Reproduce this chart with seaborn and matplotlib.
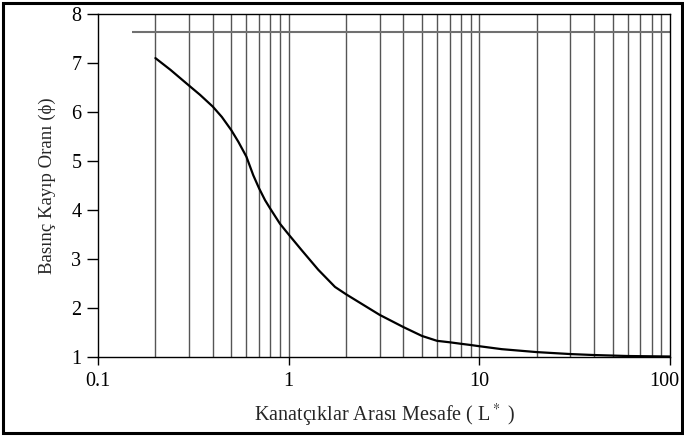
import numpy as np
import pandas as pd
import matplotlib
matplotlib.use("Agg")
import matplotlib.pyplot as plt
import matplotlib.transforms as mtransforms
import seaborn as sns
from matplotlib.patches import Rectangle

# Data
spacing = [0.2, 0.24, 0.3, 0.343, 0.4, 0.446, 0.5, 0.545, 0.6, 0.652, 0.7, 0.752, 0.8, 0.9,
           1.0, 1.17, 1.43, 1.75, 2.0, 3.0, 4.0, 5.0, 6.0, 7.0, 8.0, 9.0, 10.0, 13.1,
           20.0, 30.0, 40.0, 60.0, 100.0]
loss_ratio = [7.10, 6.86, 6.54, 6.35, 6.11, 5.90, 5.63, 5.39, 5.09, 4.71, 4.44, 4.20, 4.03, 3.72,
              3.50, 3.18, 2.78, 2.43, 2.28, 1.86, 1.61, 1.43, 1.33, 1.30, 1.27, 1.245, 1.22, 1.16,
              1.10, 1.06, 1.04, 1.02, 1.01]
grid_x = [0.2, 0.3, 0.4, 0.5, 0.6, 0.7, 0.8, 0.9,
          1, 2, 3, 4, 5, 6, 7, 8, 9,
          10, 20, 30, 40, 50, 60, 70, 80, 90]
ref_level = 7.63
ref_start = 0.15
xticks = [0.1, 1, 10, 100]
xtick_labels = ["0.1", "1", "10", "100"]
yticks = [1, 2, 3, 4, 5, 6, 7, 8]

sns.set_style("ticks")
plt.rcParams['font.family'] = ['Liberation Serif', 'DejaVu Serif']
plt.rcParams['mathtext.fontset'] = 'stix'

fig = plt.figure(figsize=(6.84, 4.36), dpi=100)
ax = fig.add_axes([98/684, 1-357/436, (670-98)/684, (357-14)/436])

for gx in grid_x:
    ax.axvline(gx, color='#555555', lw=1.0, zorder=1)
ax.hlines(ref_level, ref_start, 100, color='#707070', lw=1.5, zorder=1)

df = pd.DataFrame({"x": spacing, "y": loss_ratio})
sns.lineplot(data=df, x="x", y="y", ax=ax, color='black', lw=1.6, zorder=3)

ax.set_xscale('log')
ax.set_xlim(0.1, 100)
ax.set_ylim(1, 8)
ax.set_xticks(xticks)
ax.set_xticklabels(xtick_labels)
ax.minorticks_off()
ax.set_yticks(yticks)
ax.tick_params(axis='y', length=8, width=1, pad=4, labelsize=14.5, colors='black')
ax.tick_params(axis='x', length=6, width=1, pad=5, labelsize=14.5, colors='black')
for s in ax.spines.values():
    s.set_visible(True)
    s.set_color('black')
    s.set_linewidth(1.0)

# keep the last x tick label inside the figure
last = ax.get_xticklabels()[-1]
last.set_transform(last.get_transform() + mtransforms.ScaledTranslation(-6/100, 0, fig.dpi_scale_trans))

ax.set_xlabel("Kanatçıklar Arası Mesafe ( L$^*$ )", fontsize=14.5, labelpad=8)
ax.set_ylabel("Basınç Kayıp Oranı (ϕ)", fontsize=13.5, labelpad=11)

fig.patches.append(Rectangle((3/684, 3/436), 679/684, 430/436, transform=fig.transFigure,
                             fill=False, edgecolor='black', lw=2.2))

fig.savefig("out.png", dpi=100)
